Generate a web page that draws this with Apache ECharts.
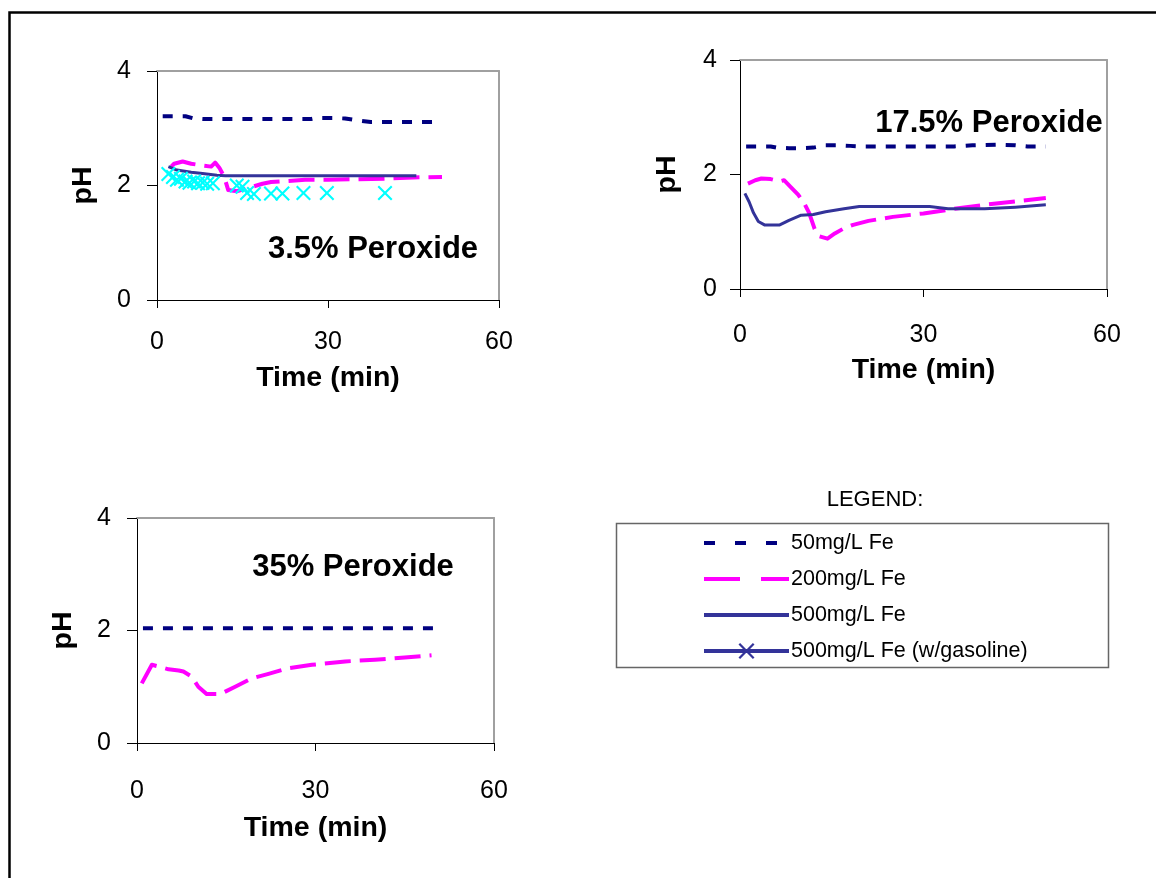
<!DOCTYPE html>
<html>
<head>
<meta charset="utf-8">
<script src="https://cdn.jsdelivr.net/npm/echarts@6/dist/echarts.min.js"></script>
<style>
html,body{margin:0;padding:0;background:#fff;}
#c{width:1156px;height:878px;}
</style>
</head>
<body>
<div id="c"></div>
<script>
// ---------- DATA ----------
var xTicks = [0, 30, 60];
var yTicks = [0, 2, 4];
var panelTitles = ['3.5% Peroxide', '17.5% Peroxide', '35% Peroxide'];
var seriesNames = ['50mg/L Fe', '200mg/L Fe', '500mg/L Fe', '500mg/L Fe (w/gasoline)'];

// 3.5% peroxide  [time (min), pH]
var fe50_p35 = [[1,3.21],[3,3.21],[5,3.21],[6.5,3.17],[8,3.16],[12,3.16],[16,3.16],[20,3.16],[24,3.16],[27,3.16],[28,3.18],[31,3.18],[33,3.17],[35,3.14],[37.5,3.11],[40,3.11],[44,3.11],[47,3.11],[50,3.11]];
var fe200_p35 = [[2.5,2.33],[3,2.38],[4.5,2.42],[6,2.38],[8,2.35],[9.5,2.33],[10.2,2.4],[11,2.3],[11.8,2.15],[12.5,1.92],[14,1.9],[15,1.93],[16.5,1.97],[18.5,2.03],[20,2.06],[23,2.08],[26,2.1],[30,2.1],[35,2.11],[40,2.12],[45,2.14],[50,2.15]];
var fe500_p35 = [[2,2.33],[3.5,2.27],[6,2.23],[8,2.21],[10.5,2.18],[12,2.17],[15,2.17],[20,2.17],[25,2.17],[30,2.17],[35,2.17],[40,2.17],[45.5,2.17]];
var gas_p35 = [[2,2.2],[2.8,2.15],[3.5,2.1],[4.2,2.12],[5,2.07],[5.7,2.05],[6.5,2.07],[7.2,2.04],[8,2.05],[8.8,2.03],[9.8,2.04],[14,2.0],[15,1.98],[15.8,1.87],[17,1.85],[20,1.86],[22,1.86],[25.7,1.87],[29.8,1.87],[40,1.87]];

// 17.5% peroxide
var fe50_p175 = [[1,2.49],[3,2.49],[5,2.49],[6,2.47],[8,2.46],[10,2.46],[12,2.47],[14,2.51],[16,2.51],[18,2.5],[20,2.49],[25,2.49],[30,2.49],[35,2.49],[38,2.51],[42,2.52],[45,2.51],[47,2.49],[50,2.49]];
var fe200_p175 = [[1.3,1.84],[2.5,1.9],[3.5,1.93],[5,1.92],[6.5,1.88],[7.2,1.9],[8.3,1.78],[9.5,1.65],[10.5,1.5],[11.3,1.33],[12.2,1.05],[13,0.92],[14.3,0.88],[15.5,0.97],[17,1.06],[18.5,1.12],[21,1.19],[25,1.26],[30,1.32],[35,1.4],[40,1.47],[45,1.53],[50,1.59]];
var fe500_p175 = [[0.8,1.67],[1.5,1.52],[2.2,1.33],[3,1.18],[4,1.12],[5,1.12],[6.5,1.12],[8,1.2],[10,1.29],[12,1.3],[14,1.35],[17,1.4],[19.5,1.44],[25,1.44],[31,1.44],[34,1.4],[40,1.4],[45,1.43],[50,1.47]];

// 35% peroxide
var fe50_p350 = [[1,2.04],[4,2.04],[7,2.04],[10,2.04],[13,2.04],[16,2.04],[20,2.04],[24,2.04],[28,2.04],[32,2.04],[36,2.04],[40,2.04],[44,2.04],[47,2.04],[50.5,2.04]];
var fe200_p350 = [[0.8,1.06],[2.5,1.39],[4,1.35],[5.3,1.31],[7,1.29],[7.8,1.27],[9.2,1.18],[10.3,1.0],[11.7,0.87],[14,0.87],[16.5,1.0],[19.3,1.15],[22.1,1.23],[25.4,1.33],[29.4,1.39],[35,1.45],[40,1.48],[45,1.52],[49.5,1.56]];

// ---------- STYLE / LAYOUT ----------
var FONT = 'Liberation Sans, Arial, sans-serif';
var NAVY = '#000080', MAG = '#FF00FF', BLUE = '#333399', CYAN = '#00FFFF';
var XPATH = 'path://M0,1L1,0L5,4L9,0L10,1L6,5L10,9L9,10L5,6L1,10L0,9L4,5Z';

var grids = [
  {left:157, top:71, width:342, height:229},
  {left:740, top:60, width:367, height:229},
  {left:137, top:518, width:357, height:225}
];
var xLabelMargin = [30, 34, 36];
var xNameGap = [64, 67, 71];
var yLabelMargin = [26, 23, 26];
var yNameGap = [59, 58, 59];

var xAxes = [], yAxes = [];
grids.forEach(function(g, i){
  xAxes.push({
    gridIndex:i, type:'value', min:xTicks[0], max:xTicks[xTicks.length-1], interval:xTicks[1]-xTicks[0],
    position:'bottom',
    name:'Time (min)', nameLocation:'middle', nameGap:xNameGap[i],
    nameTextStyle:{fontFamily:FONT, fontWeight:'bold', fontSize:28.5, color:'#000'},
    axisLine:{show:true, onZero:false, lineStyle:{color:'#000', width:1}},
    axisTick:{show:true, inside:false, length:8, lineStyle:{color:'#000'}},
    axisLabel:{fontFamily:FONT, fontSize:25, color:'#000', margin:xLabelMargin[i]},
    splitLine:{show:false}
  });
  xAxes.push({
    gridIndex:i, type:'value', min:xTicks[0], max:xTicks[xTicks.length-1], position:'top',
    axisLine:{show:true, onZero:false, lineStyle:{color:'#a0a0a0', width:2}},
    axisTick:{show:false}, axisLabel:{show:false}, splitLine:{show:false}
  });
  yAxes.push({
    gridIndex:i, type:'value', min:yTicks[0], max:yTicks[yTicks.length-1], interval:yTicks[1]-yTicks[0],
    position:'left',
    name:'pH', nameLocation:'middle', nameGap:yNameGap[i],
    nameTextStyle:{fontFamily:FONT, fontWeight:'bold', fontSize:28.5, color:'#000'},
    axisLine:{show:true, onZero:false, lineStyle:{color:'#000', width:1}},
    axisTick:{show:true, inside:false, length:10, lineStyle:{color:'#000'}},
    axisLabel:{fontFamily:FONT, fontSize:25, color:'#000', margin:yLabelMargin[i]},
    splitLine:{show:false}
  });
  yAxes.push({
    gridIndex:i, type:'value', min:yTicks[0], max:yTicks[yTicks.length-1], position:'right',
    axisLine:{show:true, onZero:false, lineStyle:{color:'#a0a0a0', width:2}},
    axisTick:{show:false}, axisLabel:{show:false}, splitLine:{show:false}
  });
});

function line(name, data, panel, color, width, dash){
  return {
    name:name, type:'line', data:data, xAxisIndex:panel*2, yAxisIndex:panel*2,
    symbol:'none', smooth:false, animation:false, silent:true,
    itemStyle:{color:color},
    lineStyle:{color:color, width:width, type:dash, cap:'butt', join:'round'}
  };
}
function markers(name, data, panel){
  return {
    name:name, type:'line', data:data, xAxisIndex:panel*2, yAxisIndex:panel*2,
    symbol:XPATH, symbolSize:15, showSymbol:true, animation:false, silent:true,
    itemStyle:{color:CYAN},
    lineStyle:{width:0, color:CYAN}
  };
}

var DASH50 = [10, 10], DASH200 = [26, 9];
var series = [
  line(seriesNames[0], fe50_p35, 0, NAVY, 4, DASH50),
  line(seriesNames[1], fe200_p35, 0, MAG, 4, DASH200),
  line(seriesNames[2], fe500_p35, 0, BLUE, 3, 'solid'),
  markers(seriesNames[3], gas_p35, 0),
  line(seriesNames[0], fe50_p175, 1, NAVY, 4, DASH50),
  line(seriesNames[1], fe200_p175, 1, MAG, 4, DASH200),
  line(seriesNames[2], fe500_p175, 1, BLUE, 3, 'solid'),
  line(seriesNames[0], fe50_p350, 2, NAVY, 4, DASH50),
  line(seriesNames[1], fe200_p350, 2, MAG, 4, DASH200)
];

var titlePos = [[373, 249], [989, 123], [353, 567]];
var graphics = [
  {type:'rect', shape:{x:9.5, y:12.5, width:1300, height:1000}, style:{fill:'none', stroke:'#000', lineWidth:2.5}, silent:true, z:0},
  {type:'rect', shape:{x:616.5, y:523.5, width:492, height:144}, style:{fill:'none', stroke:'#666', lineWidth:1.5}, silent:true},
  {type:'text', x:875, y:500, style:{text:'LEGEND:', fontFamily:FONT, fontSize:22, fill:'#000', textAlign:'center', textVerticalAlign:'middle'}, silent:true}
];
panelTitles.forEach(function(t, i){
  graphics.push({type:'text', x:titlePos[i][0], y:titlePos[i][1], z:10,
    style:{text:t, fontFamily:FONT, fontWeight:'bold', fontSize:31, fill:'#000', textAlign:'center', textVerticalAlign:'middle'}, silent:true});
});

var chart = echarts.init(document.getElementById('c'), null, {renderer:'canvas'});
chart.setOption({
  backgroundColor:'#fff',
  animation:false,
  grid: grids.map(function(g){ return {left:g.left, top:g.top, width:g.width, height:g.height, show:false, containLabel:false}; }),
  xAxis: xAxes,
  yAxis: yAxes,
  legend: {
    orient:'vertical', left:702, top:532, padding:0,
    itemWidth:85, itemHeight:20, itemGap:14,
    selectedMode:false,
    textStyle:{fontFamily:FONT, fontSize:21.5, color:'#000', lineHeight:20, padding:[0,0,0,-3]},
    data:[
      {name:seriesNames[0], itemStyle:{opacity:0}, lineStyle:{width:4, type:[11,20]}},
      {name:seriesNames[1], itemStyle:{opacity:0}, lineStyle:{width:4, type:[36,21]}},
      {name:seriesNames[2], itemStyle:{opacity:0}, lineStyle:{width:4}},
      {name:seriesNames[3], itemStyle:{color:BLUE}, lineStyle:{width:4, color:BLUE, type:'solid', opacity:1}}
    ]
  },
  graphic: graphics,
  series: series
});
</script>
</body>
</html>
